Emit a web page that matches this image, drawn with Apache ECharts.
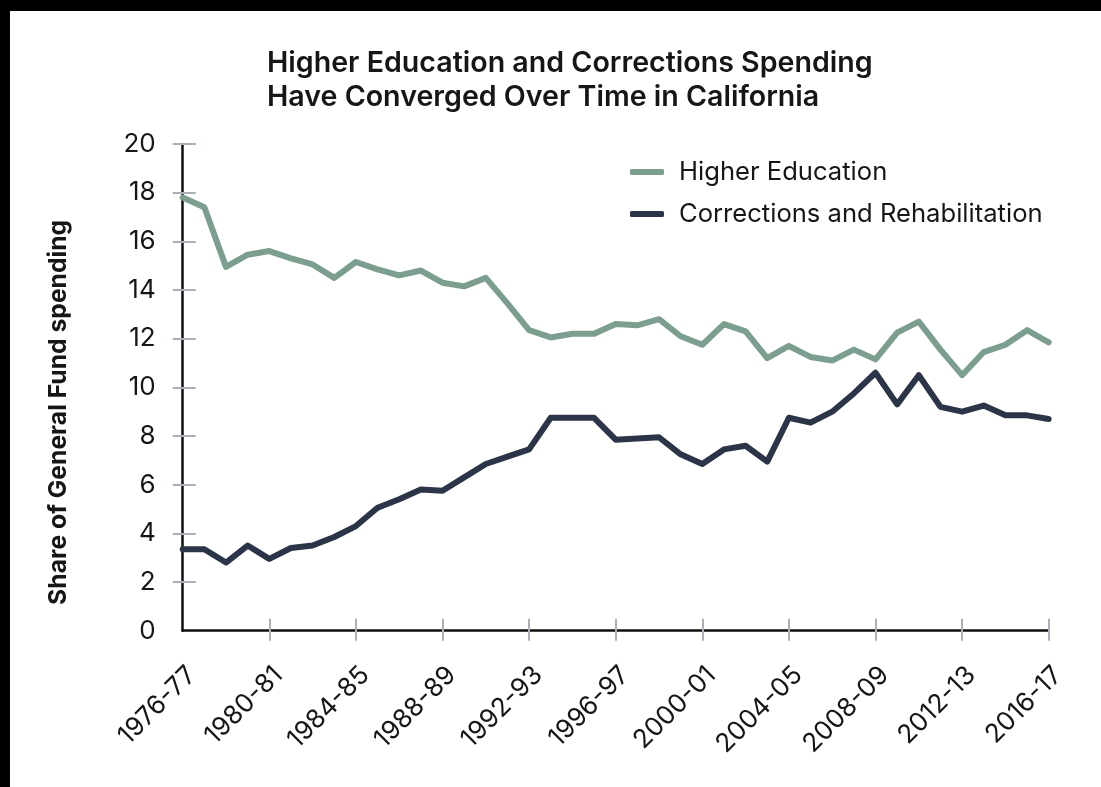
<!DOCTYPE html>
<html>
<head>
<meta charset="utf-8">
<script src="https://cdn.jsdelivr.net/npm/echarts@6/dist/echarts.min.js"></script>
<style>
  html, body { margin: 0; padding: 0; background: #000; }
  #chart { position: absolute; left: 10px; top: 11px; width: 1091px; height: 776px; background: #fff; }
</style>
</head>
<body>
<div id="chart"></div>
<script>
// Fiscal years shown on the category axis
const categories = [
  '1976-77', '1977-78', '1978-79', '1979-80', '1980-81', '1981-82', '1982-83', '1983-84',
  '1984-85', '1985-86', '1986-87', '1987-88', '1988-89', '1989-90', '1990-91', '1991-92',
  '1992-93', '1993-94', '1994-95', '1995-96', '1996-97', '1997-98', '1998-99', '1999-00',
  '2000-01', '2001-02', '2002-03', '2003-04', '2004-05', '2005-06', '2006-07', '2007-08',
  '2008-09', '2009-10', '2010-11', '2011-12', '2012-13', '2013-14', '2014-15', '2015-16',
  '2016-17'
];

// Share of General Fund spending (percent)
const higherEducation = [
  17.8, 17.4, 14.95, 15.45, 15.6, 15.3, 15.05, 14.5, 15.15, 14.85, 14.6, 14.8, 14.3, 14.15,
  14.5, 13.45, 12.35, 12.05, 12.2, 12.2, 12.6, 12.55, 12.8, 12.1, 11.75, 12.6, 12.3, 11.2,
  11.7, 11.25, 11.1, 11.55, 11.15, 12.25, 12.7, 11.55, 10.5, 11.45, 11.75, 12.35, 11.85
];
const corrections = [
  3.35, 3.35, 2.8, 3.5, 2.95, 3.4, 3.5, 3.85, 4.3, 5.05, 5.4, 5.8, 5.75, 6.3,
  6.85, 7.15, 7.45, 8.75, 8.75, 8.75, 7.85, 7.9, 7.95, 7.25, 6.85, 7.45, 7.6, 6.95,
  8.75, 8.55, 9.0, 9.75, 10.6, 9.3, 10.5, 9.2, 9.0, 9.25, 8.85, 8.85, 8.7
];

const seriesNames = ['Higher Education', 'Corrections and Rehabilitation'];
const titleLines = [
  'Higher Education and Corrections Spending',
  'Have Converged Over Time in California'
];
const yAxisTitle = 'Share of General Fund spending';
const yLabelValues = [0, 2, 4, 6, 8, 10, 12, 14, 16, 18, 20];
const yTickValues = [2, 4, 6, 8, 10, 12, 14, 16, 18, 20];

// ---- styling ----
const FONT = 'Inter, "Noto Sans", sans-serif';
const TEXT = '#161616';
const TICK = '#a9b0b7';
const GREEN = '#7b9e8e';
const NAVY = '#2c3448';

// Size a font so a string spans a given width
function fitSize(text, weight, width) {
  const ctx = document.createElement('canvas').getContext('2d');
  ctx.font = weight + ' 100px ' + FONT;
  return Math.round(1000 * width / ctx.measureText(text).width) / 10;
}
const titleSize = fitSize(titleLines[0], '600', 606);
const legendSize = fitSize(seriesNames[1], 'normal', 364);
const nameSize = fitSize(yAxisTitle, 'bold', 385);
const tickSize = 26;

const axisLine = { show: true, lineStyle: { color: '#111', width: 2.5 } };
const tickStyle = { color: TICK, width: 2 };
const showEveryFourth = (i) => i > 0 && i % 4 === 0;

const chart = echarts.init(document.getElementById('chart'), null, { renderer: 'canvas' });
chart.setOption({
  animation: false,
  backgroundColor: '#fff',
  textStyle: { fontFamily: FONT },
  title: {
    text: titleLines.join('\n'),
    left: 257,
    top: 35,
    padding: 0,
    textStyle: { fontFamily: FONT, fontWeight: 600, fontSize: titleSize, lineHeight: 34, color: TEXT }
  },
  legend: {
    data: seriesNames,
    orient: 'vertical',
    left: 620,
    top: 146,
    padding: 0,
    itemGap: 12,
    itemWidth: 34,
    itemHeight: 6,
    icon: 'roundRect',
    textStyle: { fontFamily: FONT, fontSize: legendSize, color: TEXT, lineHeight: 30, padding: [0, 0, 0, 10] }
  },
  grid: { left: 172.7, right: 52.3, top: 133, bottom: 156.3, containLabel: false },
  xAxis: [
    {
      type: 'category',
      data: categories,
      boundaryGap: false,
      position: 'bottom',
      axisLine: axisLine,
      axisTick: { show: true, length: 10, interval: showEveryFourth, lineStyle: tickStyle },
      axisLabel: {
        interval: 3, rotate: 45, margin: 31, verticalAlign: 'top',
        fontFamily: FONT, fontSize: tickSize, color: TEXT
      },
      splitLine: { show: false }
    },
    {
      type: 'category',
      data: categories,
      boundaryGap: false,
      position: 'bottom',
      axisLine: { show: false },
      axisTick: { show: true, inside: true, length: 12, interval: showEveryFourth, lineStyle: tickStyle },
      axisLabel: { show: false },
      splitLine: { show: false }
    }
  ],
  yAxis: [
    {
      type: 'value',
      min: 0, max: 20, interval: 2,
      position: 'left',
      axisLine: axisLine,
      axisTick: { show: true, length: 10, customValues: yTickValues, lineStyle: tickStyle },
      axisLabel: { margin: 27, customValues: yLabelValues, fontFamily: FONT, fontSize: tickSize, color: TEXT },
      splitLine: { show: false },
      name: yAxisTitle,
      nameLocation: 'middle',
      nameRotate: 90,
      nameGap: 112,
      nameTextStyle: { fontFamily: FONT, fontWeight: 'bold', fontSize: nameSize, color: TEXT, padding: [0, 50, 0, 0] }
    },
    {
      type: 'value',
      min: 0, max: 20, interval: 2,
      position: 'left',
      axisLine: { show: false },
      axisTick: { show: true, inside: true, length: 13, customValues: yTickValues, lineStyle: tickStyle },
      axisLabel: { show: false },
      splitLine: { show: false }
    }
  ],
  series: [
    {
      name: seriesNames[0],
      type: 'line',
      data: higherEducation,
      xAxisIndex: 0, yAxisIndex: 0,
      showSymbol: false,
      symbol: 'none',
      color: GREEN,
      lineStyle: { color: GREEN, width: 6, join: 'round', cap: 'round' }
    },
    {
      name: seriesNames[1],
      type: 'line',
      data: corrections,
      xAxisIndex: 0, yAxisIndex: 0,
      showSymbol: false,
      symbol: 'none',
      color: NAVY,
      lineStyle: { color: NAVY, width: 6, join: 'round', cap: 'round' }
    }
  ]
});
</script>
</body>
</html>
